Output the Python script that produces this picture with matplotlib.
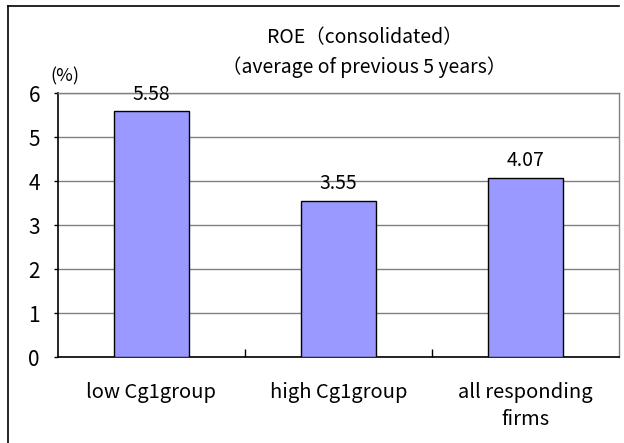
import matplotlib

matplotlib.use("Agg")

import matplotlib.pyplot as plt
import numpy as np
from matplotlib.lines import Line2D

plt.rcParams["font.family"] = ["Noto Sans CJK JP", "DejaVu Sans"]

# values
categories = ["low Cg1group", "high Cg1group", "all responding\nfirms"]
roe_values = [5.58, 3.55, 4.07]
y_ticks = [0, 1, 2, 3, 4, 5, 6]

BAR_COLOR = "#9999FF"
GRID_COLOR = "#808080"

fig = plt.figure(figsize=(6.24, 4.43), dpi=100)
W, H = 624, 443

# plot area in pixel coordinates of the reference
left, right, top, bottom = 58, 619, 93, 357
ax = fig.add_axes([left / W, (H - bottom) / H, (right - left) / W, (bottom - top) / H])

x_pos = np.arange(len(categories))
ax.bar(x_pos, roe_values, width=0.4, color=BAR_COLOR, edgecolor="black",
       linewidth=1.0, zorder=3)

for x, v in zip(x_pos, roe_values):
    ax.annotate(f"{v:.2f}", (x, v), xytext=(0, 5), textcoords="offset points",
                ha="center", va="bottom", fontsize=14, zorder=4)

ax.set_xlim(-0.5, len(categories) - 0.5)
ax.set_ylim(0, 6)
ax.set_yticks(y_ticks)
ax.set_yticklabels([str(t) for t in y_ticks], fontsize=15)
ax.yaxis.grid(True, color=GRID_COLOR, linewidth=1.0, zorder=0)
ax.tick_params(axis="y", length=3, width=1.0, pad=10, direction="out")

# category labels without ticks, boundary ticks pointing inward
ax.set_xticks(x_pos)
ax.set_xticklabels(categories, fontsize=14.5, linespacing=1.4)
ax.tick_params(axis="x", length=0, pad=18)
ax.set_xticks(np.arange(0.5, len(categories) - 0.5), minor=True)
ax.tick_params(axis="x", which="minor", length=6, width=1.0, direction="in")

for side in ("top", "right"):
    ax.spines[side].set_color(GRID_COLOR)
    ax.spines[side].set_linewidth(1.0)
for side in ("left", "bottom"):
    ax.spines[side].set_color("black")
    ax.spines[side].set_linewidth(1.2)

fig.text(365 / W, 1 - 38 / H, "ROE（consolidated）", ha="center", va="center",
         fontsize=14)
fig.text(364 / W, 1 - 67 / H, "（average of previous 5 years）", ha="center",
         va="center", fontsize=14)
fig.text(65 / W, 1 - 76 / H, "(%)", ha="center", va="center", fontsize=13)

# outer chart border (cropped on the right and bottom in the reference)
fig.add_artist(Line2D([8 / W, 619 / W], [1 - 6 / H, 1 - 6 / H],
                      transform=fig.transFigure, color="black", linewidth=1.2))
fig.add_artist(Line2D([8 / W, 8 / W], [1 - 6 / H, 0],
                      transform=fig.transFigure, color="black", linewidth=1.2))

fig.savefig("out.png", dpi=100)
